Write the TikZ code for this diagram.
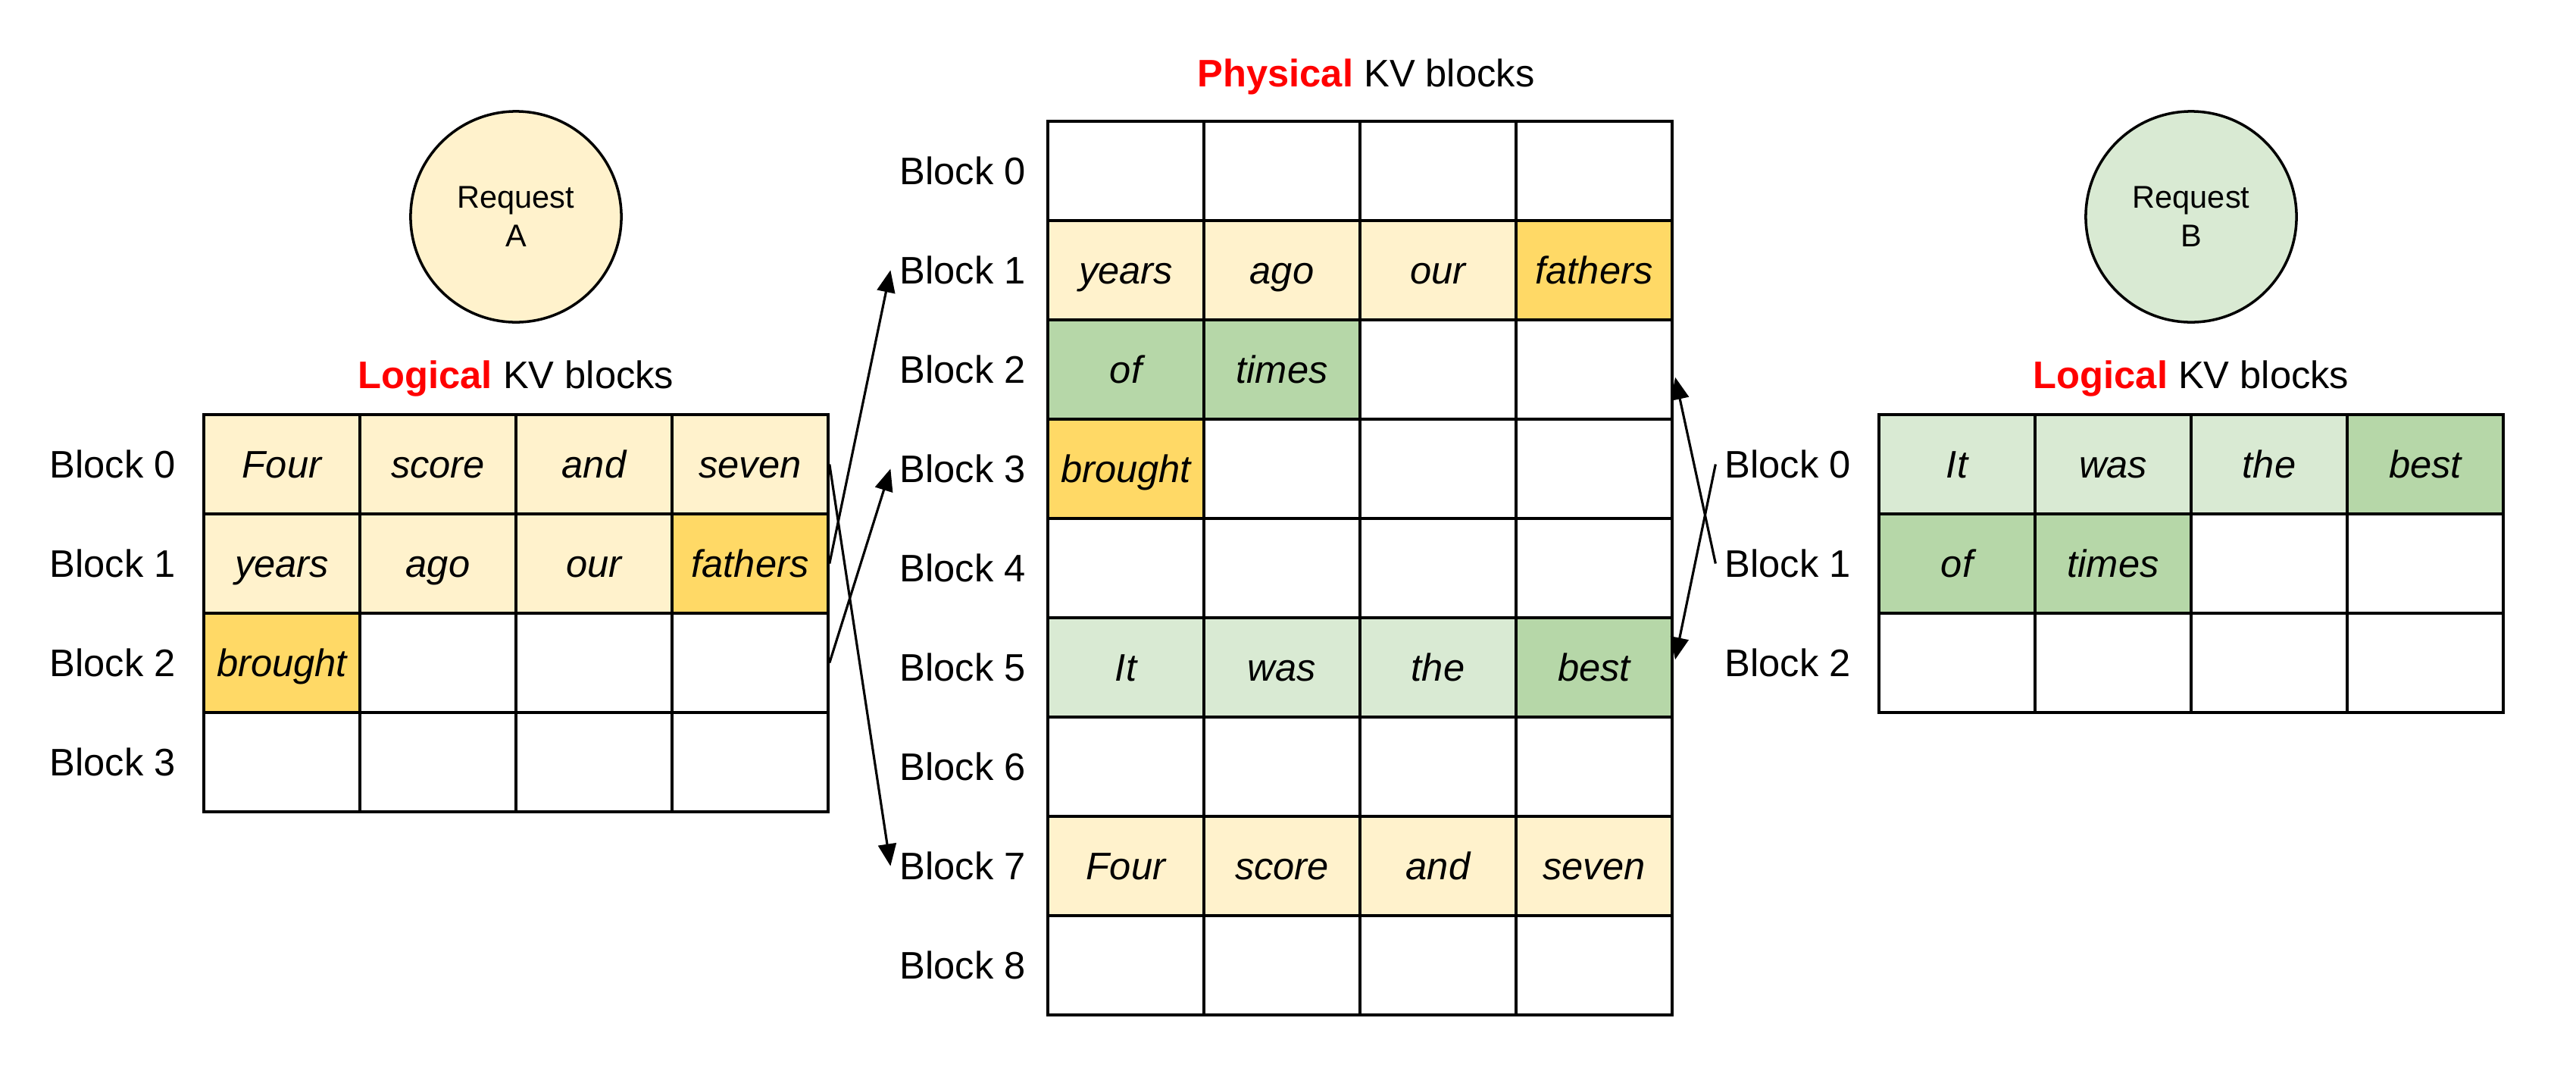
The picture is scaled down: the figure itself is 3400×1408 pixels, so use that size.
\documentclass[tikz,border=0pt]{standalone}
\usepackage{fontspec}
\setmainfont{Liberation Sans}
\usepackage{tikz}
\usetikzlibrary{shapes}
\usetikzlibrary{arrows}
\newcommand{\kvsize}{\fontsize{14.4}{17}\selectfont}
\definecolor{paleA}{HTML}{FFF2CC}
\definecolor{deepA}{HTML}{FFD966}
\definecolor{paleB}{HTML}{D9EAD3}
\definecolor{deepB}{HTML}{B6D7A8}
\tikzstyle{cell}=[rectangle,draw=black,fill=white,inner sep=0mm,minimum width=2.06cm,minimum height=1.31cm,text height=11pt,text depth=1pt,font=\kvsize\itshape]
\tikzstyle{ya}=[fill=paleA]
\tikzstyle{yb}=[fill=deepA]
\tikzstyle{ga}=[fill=paleB]
\tikzstyle{gb}=[fill=deepB]
\tikzstyle{free}=[fill=white]
\tikzstyle{req}=[circle,draw=black,inner sep=0mm,minimum size=2.78cm,align=center,font=\fontsize{11.8}{14.5}\selectfont]
\tikzstyle{blocklabel}=[inner sep=3pt,anchor=east,font=\kvsize]
\tikzstyle{heading}=[anchor=base,font=\kvsize]
\tikzstyle{link}=[->,>=triangle 45,line width=0.9pt]

\begin{document}
\begin{tikzpicture}[x=0.01cm,y=-0.01cm,line width=1pt]
    \useasboundingbox (0,0) rectangle (3400,1408);
    % requests
    \node[req,fill=paleA] at (681,286) (reqA) {Request\\A};
    \node[req,fill=paleB] at (2892,286) (reqB) {Request\\B};
    % headings
    \node[heading] at (681,512) (logA) {\textcolor{red}{\textbf{Logical}} KV blocks};
    \node[heading] at (1803,114) (phys) {\textcolor{red}{\textbf{Physical}} KV blocks};
    \node[heading] at (2892,512) (logB) {\textcolor{red}{\textbf{Logical}} KV blocks};
    % logical blocks of request A
    \foreach \i/\cells in {0/{ya/Four,ya/score,ya/and,ya/seven},1/{ya/years,ya/ago,ya/our,yb/fathers},2/{yb/brought,free/,free/,free/},3/{free/,free/,free/,free/}}{
      \node[blocklabel] at (244,612.5+131*\i) (lb\i) {Block \i};
      \foreach \s/\w [count=\col from 0] in \cells
        \node[cell,\s] at (372+206*\col,612.5+131*\i) (l-\i-\col) {\w};
    }
    % physical blocks
    \foreach \i/\cells in {0/{free/,free/,free/,free/},1/{ya/years,ya/ago,ya/our,yb/fathers},2/{gb/of,gb/times,free/,free/},3/{yb/brought,free/,free/,free/},4/{free/,free/,free/,free/},5/{ga/It,ga/was,ga/the,gb/best},6/{free/,free/,free/,free/},7/{ya/Four,ya/score,ya/and,ya/seven},8/{free/,free/,free/,free/}}{
      \node[blocklabel] at (1366,225.5+131*\i) (pb\i) {Block \i};
      \foreach \s/\w [count=\col from 0] in \cells
        \node[cell,\s] at (1486+206*\col,225.5+131*\i) (p-\i-\col) {\w};
    }
    % logical blocks of request B
    \foreach \i/\cells in {0/{ga/It,ga/was,ga/the,gb/best},1/{gb/of,gb/times,free/,free/},2/{free/,free/,free/,free/}}{
      \node[blocklabel] at (2455,612.5+131*\i) (rb\i) {Block \i};
      \foreach \s/\w [count=\col from 0] in \cells
        \node[cell,\s] at (2583+206*\col,612.5+131*\i) (r-\i-\col) {\w};
    }
    % block tables
    \draw[link] (l-1-3.east) -- (pb1.west);
    \draw[link] (l-2-3.east) -- (pb3.west);
    \draw[link] (l-0-3.east) -- (pb7.west);
    \draw[link,shorten >=3pt] (rb0.west) -- (p-5-3.east);
    \draw[link,shorten >=3pt] (rb1.west) -- (p-2-3.east);
  \end{tikzpicture}
\end{document}
